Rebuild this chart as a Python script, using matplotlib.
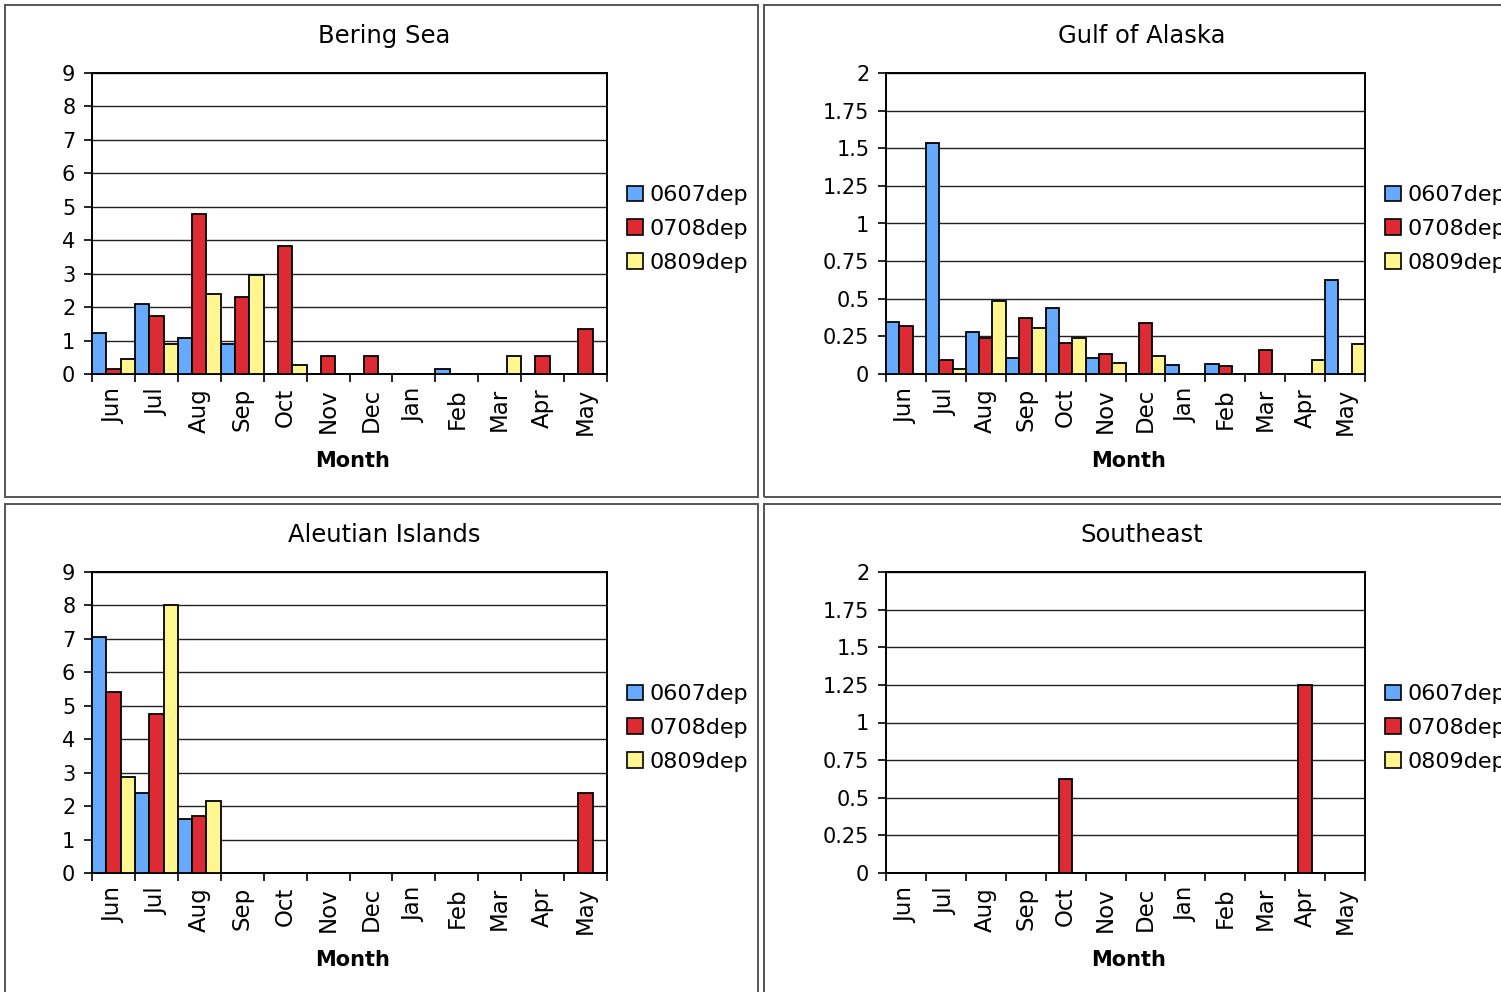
"""Monthly bar panels for four regions, three deployment seasons each."""

import matplotlib
matplotlib.use("Agg")
import matplotlib.pyplot as plt
from matplotlib.patches import Patch, Rectangle
from matplotlib.ticker import FixedLocator, FuncFormatter

months = ["Jun", "Jul", "Aug", "Sep", "Oct", "Nov",
          "Dec", "Jan", "Feb", "Mar", "Apr", "May"]
series_names = ["0607dep", "0708dep", "0809dep"]

# ----- values per region, one list per deployment --------------------------
bering_0607 = [1.24, 2.08, 1.09, 0.89, 0, 0, 0, 0, 0.15, 0, 0, 0]
bering_0708 = [0.15, 1.72, 4.79, 2.30, 3.84, 0.55, 0.55, 0, 0, 0, 0.55, 1.36]
bering_0809 = [0.44, 0.89, 2.38, 2.97, 0.28, 0, 0, 0, 0, 0.55, 0, 0]

gulf_0607 = [0.347, 1.538, 0.28, 0.109, 0.438, 0.109, 0, 0.058, 0.069, 0, 0, 0.627]
gulf_0708 = [0.32, 0.096, 0.236, 0.369, 0.209, 0.131, 0.338, 0, 0.056, 0.158, 0, 0]
gulf_0809 = [0, 0.036, 0.482, 0.304, 0.236, 0.071, 0.122, 0, 0, 0, 0.093, 0.202]

aleut_0607 = [7.06, 2.40, 1.61, 0, 0, 0, 0, 0, 0, 0, 0, 0]
aleut_0708 = [5.41, 4.76, 1.71, 0, 0, 0, 0, 0, 0, 0, 0, 2.39]
aleut_0809 = [2.86, 8.0, 2.16, 0, 0, 0, 0, 0, 0, 0, 0, 0]

se_0607 = [0] * 12
se_0708 = [0, 0, 0, 0, 0.625, 0, 0, 0, 0, 0, 1.25, 0]
se_0809 = [0] * 12

bering_ticks = list(range(0, 10))
gulf_ticks = [0, 0.25, 0.5, 0.75, 1, 1.25, 1.5, 1.75, 2]

COLORS = ["#66aaff", "#dd2a33", "#fff68f"]
FONT = "DejaVu Sans"

W, H = 1501, 992
fig = plt.figure(figsize=(W / 100, H / 100), dpi=100)
fig.patch.set_facecolor("white")


def px(x, y):
    """Pixel position (from top-left) to figure fraction."""
    return x / W, 1 - y / H


def panel(box, plot, title, title_xy, data, yticks, ymax):
    bx0, by0, bx1, by1 = box
    fig.patches.append(Rectangle(px(bx0, by1), (bx1 - bx0) / W, (by1 - by0) / H,
                                 transform=fig.transFigure, fill=False,
                                 edgecolor="#555555", linewidth=1.4))
    x0, y0, x1, y1 = plot
    ax = fig.add_axes([x0 / W, 1 - y1 / H, (x1 - x0) / W, (y1 - y0) / H])

    for k, vals in enumerate(data):
        ax.bar([i + k / 3 for i in range(12)], vals, width=1 / 3, align="edge",
               color=COLORS[k], edgecolor="black", linewidth=1.3, zorder=3)

    ax.set_xlim(0, 12)
    ax.set_ylim(0, ymax)
    ax.set_yticks(yticks)
    ax.yaxis.set_major_formatter(FuncFormatter(lambda v, _: f"{v:g}"))
    ax.grid(axis="y", color="#222222", linewidth=1.0, zorder=0)
    ax.set_axisbelow(True)

    ax.xaxis.set_major_locator(FixedLocator([i + 0.5 for i in range(12)]))
    ax.xaxis.set_minor_locator(FixedLocator(range(13)))
    ax.set_xticklabels(months, rotation=90, fontsize=16.5, family=FONT)
    ax.tick_params(axis="x", which="major", length=0, pad=10)
    ax.tick_params(axis="x", which="minor", length=6, width=1.2)
    ax.tick_params(axis="y", length=6, width=1.2, labelsize=15, pad=6)
    for lab in ax.get_yticklabels():
        lab.set_family(FONT)
    for sp in ax.spines.values():
        sp.set_linewidth(1.4)
        sp.set_color("black")

    fig.text(*px(*title_xy), title, ha="center", va="center",
             fontsize=17.5, family=FONT)
    fig.text(*px((x0 + x1) / 2 + 3, y1 + 87), "Month", ha="center",
             va="center", fontsize=15, fontweight="bold", family=FONT)

    # legend sits right of the plot; on the right-hand panels it runs off the page
    handles = [Patch(facecolor=c, edgecolor="black", linewidth=1.2) for c in COLORS]
    ax.legend(handles, series_names, loc="center left",
              bbox_to_anchor=px(x1 + 20, y0 + 156), bbox_transform=fig.transFigure,
              frameon=False, prop={"family": FONT, "size": 16},
              handlelength=0.72, handleheight=0.72, handletextpad=0.3,
              labelspacing=0.62, borderpad=0, borderaxespad=0)
    return ax


panel((5, 5, 758, 497), (92, 73, 607, 374), "Bering Sea", (384, 36),
      [bering_0607, bering_0708, bering_0809], bering_ticks, 9)
panel((764, 5, 1510, 497), (886, 73, 1365, 374), "Gulf of Alaska", (1142, 36),
      [gulf_0607, gulf_0708, gulf_0809], gulf_ticks, 2)
panel((5, 504, 758, 1000), (92, 572, 607, 873), "Aleutian Islands", (384, 535),
      [aleut_0607, aleut_0708, aleut_0809], bering_ticks, 9)
panel((764, 504, 1510, 1000), (886, 572, 1365, 873), "Southeast", (1142, 535),
      [se_0607, se_0708, se_0809], gulf_ticks, 2)

fig.savefig("out.png", dpi=100)
